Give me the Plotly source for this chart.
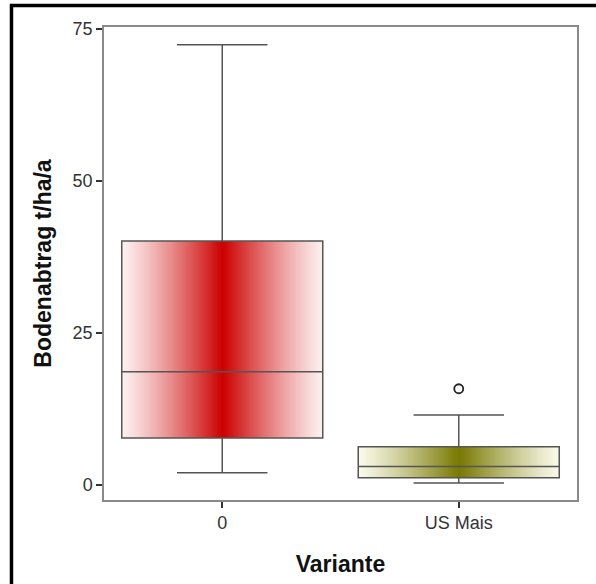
import numpy as np
import plotly.graph_objects as go

categories = ["0", "US Mais"]
q1 = [7.7, 1.15]
median = [18.6, 3.0]
q3 = [40.1, 6.25]
lower_whisker = [2.0, 0.3]
upper_whisker = [72.4, 11.5]
outlier_cat = [1]
outlier_val = [15.8]
y_ticks = [0, 25, 50, 75]

box_colors = [
    [[0, "#fdf0f0"], [1, "#cc0000"]],
    [[0, "#fafaea"], [1, "#787800"]],
]
BOX_W = 0.85
N = 120

fig = go.Figure()
for i, cat in enumerate(categories):
    xe = np.linspace(i - BOX_W / 2, i + BOX_W / 2, N + 1)
    xc = (xe[:-1] + xe[1:]) / 2
    t = np.abs((xc - i) / (BOX_W / 2))
    z = (1 - t) ** 1.2
    fig.add_trace(go.Heatmap(
        x=xe, y=[q1[i], q3[i]], z=[z], colorscale=box_colors[i],
        zmin=0, zmax=1, showscale=False, hoverinfo="skip", zsmooth="best"))

for i, cat in enumerate(categories):
    fig.add_trace(go.Box(
        x=[i], q1=[q1[i]], median=[median[i]], q3=[q3[i]],
        lowerfence=[lower_whisker[i]], upperfence=[upper_whisker[i]],
        width=BOX_W, whiskerwidth=0.45, fillcolor="rgba(0,0,0,0)",
        line=dict(color="#555555", width=1.5), boxpoints=False,
        showlegend=False, name=cat))

fig.add_trace(go.Scatter(
    x=outlier_cat, y=outlier_val, mode="markers",
    marker=dict(symbol="circle-open", size=9, color="#222222",
                line=dict(width=1.8)),
    showlegend=False))

fig.add_shape(type="rect", xref="paper", yref="paper",
              x0=-0.1956, y0=-0.4, x1=1.2, y1=1.0455,
              line=dict(color="black", width=3.5), layer="above")

fig.update_layout(
    width=596, height=584,
    margin=dict(l=104, r=19, t=27, b=84),
    paper_bgcolor="white", plot_bgcolor="white",
    font=dict(family="Liberation Sans, Arial, sans-serif", color="#333333"),
    showlegend=False,
    xaxis=dict(range=[-0.5, 1.5], tickvals=list(range(len(categories))),
               ticktext=categories, showgrid=False, zeroline=False,
               showline=True, mirror=True, linecolor="#8a8a8a", linewidth=1.5,
               ticks="outside", ticklen=6, tickwidth=1.5, tickcolor="#333333",
               tickfont=dict(size=18),
               title=dict(text="<b>Variante</b>", font=dict(size=23, color="#111111"),
                          standoff=24)),
    yaxis=dict(range=[-2.5, 75.3], tickvals=y_ticks, showgrid=False,
               zeroline=False, showline=True, mirror=True, linecolor="#8a8a8a",
               linewidth=1.5, ticks="outside", ticklen=6, tickwidth=1.5,
               tickcolor="#333333", tickfont=dict(size=18),
               title=dict(text="<b>Bodenabtrag t/ha/a</b>",
                          font=dict(size=23, color="#111111"), standoff=15)),
)

fig.write_html("out.html")
